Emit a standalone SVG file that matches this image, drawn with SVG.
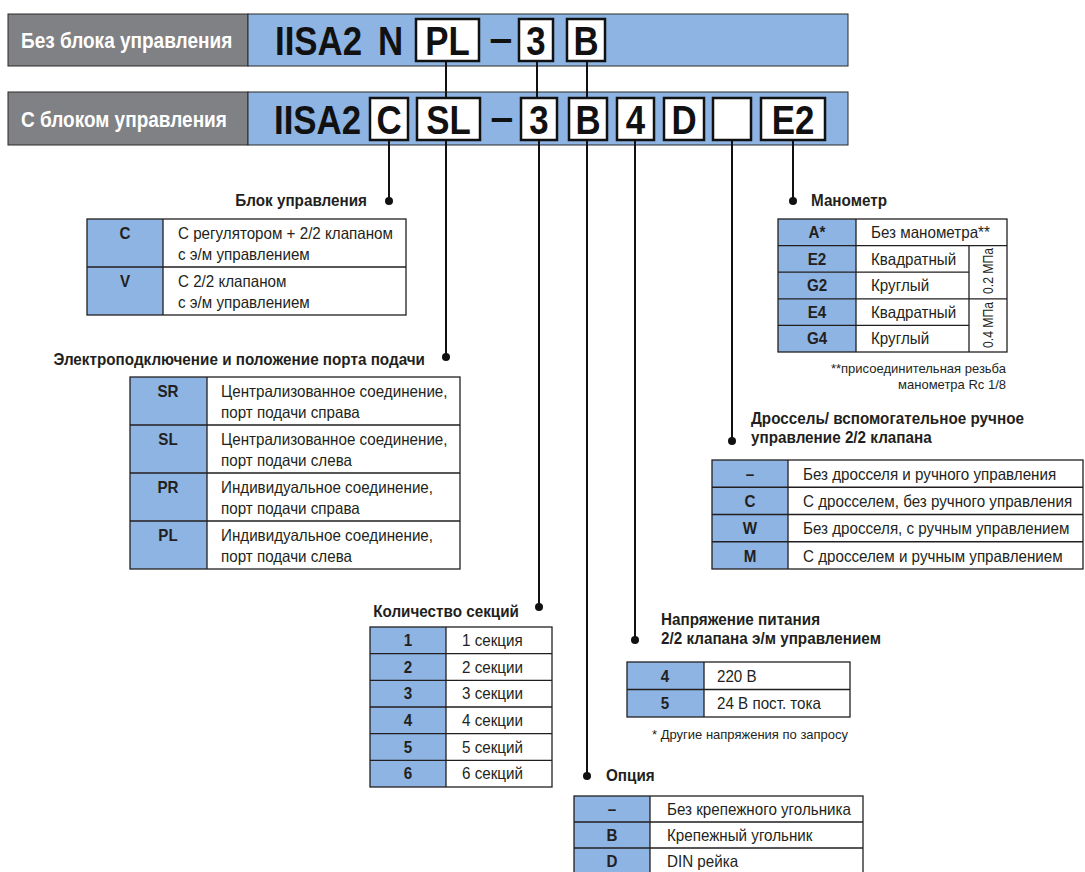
<svg xmlns="http://www.w3.org/2000/svg" width="1085" height="872" viewBox="0 0 1085 872">
<style>
text{font-family:"Liberation Sans",Arial,sans-serif;fill:#231f20}
.gray{fill:#808184;stroke:#2b2b2b;stroke-width:1}
.blue{fill:#8db4e2;stroke:#2b2b2b;stroke-width:1}
.box{fill:#fff;stroke:#111;stroke-width:2.5}
.big{font-size:41px;font-weight:bold;fill:#111;transform-box:fill-box;transform-origin:left center;transform:scaleX(.85)}
.bc{font-size:41px;font-weight:bold;fill:#111;text-anchor:middle;transform-box:fill-box;transform-origin:center;transform:scaleX(.85)}
.dash{font-size:41px;font-weight:bold;fill:#111;text-anchor:middle}
.hw{font-size:22.5px;font-weight:bold;fill:#fff;transform-box:fill-box;transform-origin:left center;transform:scaleX(.845)}
.code{fill:#8db4e2}
.cell{fill:#fff}
.tb{fill:none;stroke:#231f20;stroke-width:1.3}
.t{font-size:16.5px;transform-box:fill-box;transform-origin:left center;transform:scaleX(.92)}
.c{font-size:16.5px;font-weight:bold;text-anchor:middle;transform-box:fill-box;transform-origin:center;transform:scaleX(.92)}
.h{font-size:16.5px;font-weight:bold;transform-box:fill-box;transform-origin:left center;transform:scaleX(.925)}
.r{text-anchor:end;transform-origin:right center}
.n{font-size:13px}
.rt{font-size:15px;text-anchor:middle}
.ln{stroke:#111;stroke-width:2;fill:none}
.dot{fill:#111}
</style>

<g id="header-no-control">
<rect class="gray" x="8" y="14" width="240" height="52"/>
<rect class="blue" x="248" y="14" width="600" height="52"/>
<text class="hw" x="21" y="48">Без блока управления</text>
<text class="big" x="275" y="55">IISA2</text>
<text class="big" x="378" y="55">N</text>
<rect class="box" x="416" y="19" width="63" height="42"/>
<text class="bc" x="447.5" y="55">PL</text>
<text class="dash" x="501" y="52">–</text>
<rect class="box" x="519" y="19" width="34" height="42"/>
<text class="bc" x="536" y="55">3</text>
<rect class="box" x="567" y="19" width="38" height="42"/>
<text class="bc" x="586" y="55">B</text>
</g>

<g id="header-control">
<rect class="gray" x="8" y="92" width="240" height="53"/>
<rect class="blue" x="248" y="92" width="600" height="53"/>
<text class="hw" x="21" y="127">С блоком управления</text>
<text class="big" x="274" y="134">IISA2</text>
<rect class="box" x="370" y="98" width="38" height="42"/>
<text class="bc" x="389" y="134">C</text>
<rect class="box" x="417" y="98" width="63" height="42"/>
<text class="bc" x="448.5" y="134">SL</text>
<text class="dash" x="502" y="131">–</text>
<rect class="box" x="521" y="98" width="36" height="42"/>
<text class="bc" x="539" y="134">3</text>
<rect class="box" x="569" y="98" width="38" height="42"/>
<text class="bc" x="588" y="134">B</text>
<rect class="box" x="617" y="98" width="37" height="42"/>
<text class="bc" x="635.5" y="134">4</text>
<rect class="box" x="664" y="98" width="40" height="42"/>
<text class="bc" x="684" y="134">D</text>
<rect class="box" x="713" y="98" width="38" height="42"/>
<rect class="box" x="761" y="98" width="64" height="42"/>
<text class="bc" x="793" y="134">E2</text>
</g>

<g id="connectors">
<line class="ln" x1="446" y1="61" x2="446" y2="98"/>
<line class="ln" x1="537" y1="61" x2="537" y2="98"/>
<line class="ln" x1="587" y1="61" x2="587" y2="98"/>
<line class="ln" x1="389" y1="140" x2="389" y2="201"/>
<circle class="dot" cx="389" cy="201" r="4"/>
<line class="ln" x1="446" y1="140" x2="446" y2="357"/>
<circle class="dot" cx="446" cy="357" r="4"/>
<line class="ln" x1="539" y1="140" x2="539" y2="607"/>
<circle class="dot" cx="539" cy="607" r="4"/>
<line class="ln" x1="587" y1="140" x2="587" y2="776"/>
<circle class="dot" cx="587" cy="776" r="4"/>
<line class="ln" x1="635" y1="140" x2="635" y2="640"/>
<circle class="dot" cx="635" cy="640" r="4"/>
<line class="ln" x1="732" y1="140" x2="732" y2="441"/>
<circle class="dot" cx="732" cy="441" r="4"/>
<line class="ln" x1="793" y1="140" x2="793" y2="201"/>
<circle class="dot" cx="793" cy="201" r="4"/>
</g>

<g id="control-unit">
<text class="h r" x="367" y="206">Блок управления</text>
<rect class="code" x="87" y="219" width="76" height="96"/>
<rect class="cell" x="163" y="219" width="243" height="96"/>
<rect class="tb" x="87" y="219" width="319" height="96"/>
<path class="tb" d="M163 219V315M87 267H406"/>
<text class="c" x="125" y="239">C</text>
<text class="t" x="178" y="239">С регулятором + 2/2 клапаном</text>
<text class="t" x="178" y="260">с э/м управлением</text>
<text class="c" x="125" y="287">V</text>
<text class="t" x="178" y="287">С 2/2 клапаном</text>
<text class="t" x="178" y="308">с э/м управлением</text>
</g>

<g id="port-position">
<text class="h r" x="425" y="365">Электроподключение и положение порта подачи</text>
<rect class="code" x="130" y="377" width="77" height="192"/>
<rect class="cell" x="207" y="377" width="253" height="192"/>
<rect class="tb" x="130" y="377" width="330" height="192"/>
<path class="tb" d="M207 377V569M130 425H460M130 473H460M130 521H460"/>
<text class="c" x="168" y="397">SR</text>
<text class="t" x="221" y="397">Централизованное соединение,</text>
<text class="t" x="221" y="418">порт подачи справа</text>
<text class="c" x="168" y="445">SL</text>
<text class="t" x="221" y="445">Централизованное соединение,</text>
<text class="t" x="221" y="466">порт подачи слева</text>
<text class="c" x="168" y="493">PR</text>
<text class="t" x="221" y="493">Индивидуальное соединение,</text>
<text class="t" x="221" y="514">порт подачи справа</text>
<text class="c" x="168" y="541">PL</text>
<text class="t" x="221" y="541">Индивидуальное соединение,</text>
<text class="t" x="221" y="562">порт подачи слева</text>
</g>

<g id="sections">
<text class="h r" x="519" y="617">Количество секций</text>
<rect class="code" x="370" y="627" width="76" height="160"/>
<rect class="cell" x="446" y="627" width="106" height="160"/>
<rect class="tb" x="370" y="627" width="182" height="160"/>
<path class="tb" d="M446 627V787M370 653.7H552M370 680.3H552M370 707H552M370 733.7H552M370 760.3H552"/>
<text class="c" x="408" y="646">1</text><text class="t" x="462" y="646">1 секция</text>
<text class="c" x="408" y="672.7">2</text><text class="t" x="462" y="672.7">2 секции</text>
<text class="c" x="408" y="699.3">3</text><text class="t" x="462" y="699.3">3 секции</text>
<text class="c" x="408" y="726">4</text><text class="t" x="462" y="726">4 секции</text>
<text class="c" x="408" y="752.7">5</text><text class="t" x="462" y="752.7">5 секций</text>
<text class="c" x="408" y="779.3">6</text><text class="t" x="462" y="779.3">6 секций</text>
</g>

<g id="gauge">
<text class="h" x="811" y="206">Манометр</text>
<rect class="code" x="778" y="219" width="78" height="133"/>
<rect class="cell" x="856" y="219" width="151" height="133"/>
<rect class="tb" x="778" y="219" width="229" height="133"/>
<path class="tb" d="M856 219V352M778 245.6H1007M778 272.2H969M778 298.8H1007M778 325.4H969M969 245.6V352"/>
<text class="c" x="817" y="238">A*</text><text class="t" x="871" y="238">Без манометра**</text>
<text class="c" x="817" y="264.6">E2</text><text class="t" x="871" y="264.6">Квадратный</text>
<text class="c" x="817" y="291.2">G2</text><text class="t" x="871" y="291.2">Круглый</text>
<text class="c" x="817" y="317.8">E4</text><text class="t" x="871" y="317.8">Квадратный</text>
<text class="c" x="817" y="344.4">G4</text><text class="t" x="871" y="344.4">Круглый</text>
<text class="rt" transform="translate(993 271) rotate(-90)" textLength="46" lengthAdjust="spacingAndGlyphs">0.2 МПа</text>
<text class="rt" transform="translate(993 325) rotate(-90)" textLength="46" lengthAdjust="spacingAndGlyphs">0.4 МПа</text>
<text class="n" x="1006" y="373" text-anchor="end">**присоединительная резьба</text>
<text class="n" x="1006" y="389" text-anchor="end">манометра Rc 1/8</text>
</g>

<g id="throttle">
<text class="h" x="751" y="424">Дроссель/ вспомогательное ручное</text>
<text class="h" x="751" y="443">управление 2/2 клапана</text>
<rect class="code" x="712" y="460" width="76" height="109"/>
<rect class="cell" x="788" y="460" width="295" height="109"/>
<rect class="tb" x="712" y="460" width="371" height="109"/>
<path class="tb" d="M788 460V569M712 487.25H1083M712 514.5H1083M712 541.75H1083"/>
<text class="c" x="750" y="480">–</text><text class="t" x="803" y="480">Без дросселя и ручного управления</text>
<text class="c" x="750" y="507.25">C</text><text class="t" x="803" y="507.25">С дросселем, без ручного управления</text>
<text class="c" x="750" y="534.5">W</text><text class="t" x="803" y="534.5">Без дросселя, с ручным управлением</text>
<text class="c" x="750" y="561.75">M</text><text class="t" x="803" y="561.75">С дросселем и ручным управлением</text>
</g>

<g id="voltage">
<text class="h" x="661" y="625">Напряжение питания</text>
<text class="h" x="661" y="644">2/2 клапана э/м управлением</text>
<rect class="code" x="627" y="662" width="77" height="55"/>
<rect class="cell" x="704" y="662" width="146" height="55"/>
<rect class="tb" x="627" y="662" width="223" height="55"/>
<path class="tb" d="M704 662V717M627 689.5H850"/>
<text class="c" x="665" y="682">4</text><text class="t" x="717" y="682">220 В</text>
<text class="c" x="665" y="709.5">5</text><text class="t" x="717" y="709.5">24 В пост. тока</text>
<text class="n" x="652" y="739">* Другие напряжения по запросу</text>
</g>

<g id="option">
<text class="h" x="606" y="781">Опция</text>
<rect class="code" x="574" y="796" width="76" height="80"/>
<rect class="cell" x="650" y="796" width="213" height="80"/>
<rect class="tb" x="574" y="796" width="289" height="80"/>
<path class="tb" d="M650 796V876M574 822H863M574 848H863"/>
<text class="c" x="612" y="815">–</text><text class="t" x="667" y="815">Без крепежного угольника</text>
<text class="c" x="612" y="841">B</text><text class="t" x="667" y="841">Крепежный угольник</text>
<text class="c" x="612" y="867">D</text><text class="t" x="667" y="867">DIN рейка</text>
</g>
</svg>
